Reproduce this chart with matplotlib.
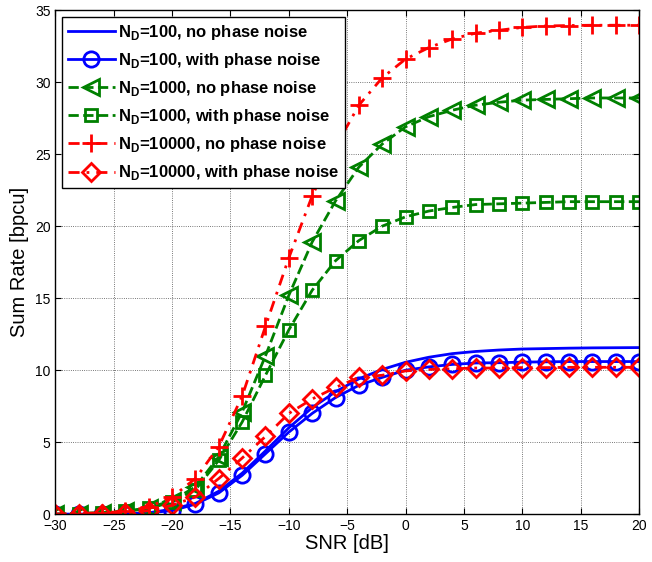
import numpy as np
import matplotlib
matplotlib.use('Agg')
import matplotlib.pyplot as plt

plt.rcParams['font.family'] = ['Liberation Sans', 'DejaVu Sans']
plt.rcParams['mathtext.fontset'] = 'custom'
plt.rcParams['mathtext.rm'] = 'Liberation Sans'
plt.rcParams['mathtext.bf'] = 'Liberation Sans:bold'

# SNR grid, markers every 2 dB
snr = np.arange(-30, 21, 2)

nd100_nopn = [0.0, 0.0, 0.01, 0.03, 0.1, 0.35, 0.75, 1.6, 2.85, 4.4, 6.0, 7.4, 8.5,
              9.4, 10.05, 10.55, 10.9, 11.15, 11.3, 11.4, 11.47, 11.5, 11.53, 11.55, 11.56, 11.57]
nd100_pn = [0.0, 0.0, 0.01, 0.03, 0.1, 0.25, 0.7, 1.48, 2.7, 4.2, 5.7, 7.0, 8.1,
            8.95, 9.5, 10.0, 10.23, 10.4, 10.5, 10.52, 10.56, 10.58, 10.6, 10.6, 10.6, 10.6]
nd1000_nopn = [0.0, 0.05, 0.1, 0.2, 0.45, 0.95, 1.9, 4.0, 7.1, 11.0, 15.2, 18.9, 21.75,
               24.1, 25.7, 26.9, 27.6, 28.05, 28.4, 28.6, 28.75, 28.8, 28.85, 28.9, 28.9, 28.9]
nd1000_pn = [0.0, 0.05, 0.1, 0.2, 0.4, 0.85, 1.7, 3.75, 6.4, 9.65, 12.8, 15.55, 17.6,
             19.0, 20.0, 20.65, 21.05, 21.3, 21.5, 21.55, 21.6, 21.65, 21.7, 21.7, 21.7, 21.7]
nd10000_nopn = [0.0, 0.05, 0.1, 0.2, 0.5, 1.2, 2.48, 4.7, 8.2, 13.05, 17.8, 22.1, 25.5,
                28.4, 30.3, 31.6, 32.4, 33.0, 33.4, 33.6, 33.8, 33.9, 33.93, 33.95, 33.95, 33.95]
nd10000_pn = [0.0, 0.0, 0.05, 0.1, 0.25, 0.62, 1.2, 2.48, 3.9, 5.4, 7.0, 8.0, 8.8,
              9.5, 9.65, 9.95, 10.05, 10.1, 10.15, 10.15, 10.18, 10.18, 10.2, 10.2, 10.2, 10.2]

fig = plt.figure(figsize=(6.52, 5.62), dpi=100)
ax = fig.add_axes([0.085, 0.085, 0.895, 0.897])

lw = 2.0
ms = 11
dashdot = (0, (4, 2.5, 1, 2.5))
ax.plot(snr, nd100_nopn, '-', color='b', lw=lw,
        label=r'$\mathbf{N}_{\mathbf{D}}$=100, no phase noise')
ax.plot(snr, nd100_pn, '-o', color='b', lw=lw, ms=ms, mfc='none', mew=lw,
        label=r'$\mathbf{N}_{\mathbf{D}}$=100, with phase noise')
ax.plot(snr, nd1000_nopn, '--<', color='#008000', lw=lw, ms=ms + 1, mfc='none', mew=lw,
        label=r'$\mathbf{N}_{\mathbf{D}}$=1000, no phase noise')
ax.plot(snr, nd1000_pn, '--s', color='#008000', lw=lw, ms=ms - 2, mfc='none', mew=lw,
        label=r'$\mathbf{N}_{\mathbf{D}}$=1000, with phase noise')
ax.plot(snr, nd10000_nopn, marker='+', ls=dashdot, color='r', lw=lw, ms=ms + 2, mew=lw,
        label=r'$\mathbf{N}_{\mathbf{D}}$=10000, no phase noise')
ax.plot(snr, nd10000_pn, marker='D', ls=dashdot, color='r', lw=lw, ms=ms - 2, mfc='none', mew=lw,
        label=r'$\mathbf{N}_{\mathbf{D}}$=10000, with phase noise')

ax.set_xlim(-30, 20)
ax.set_ylim(0, 35)
ax.set_xticks(np.arange(-30, 21, 5))
ax.set_yticks(np.arange(0, 36, 5))
ax.tick_params(direction='in', top=True, right=True, labelsize=10, length=4)
ax.grid(True, linestyle=':', color='k', lw=0.6, alpha=0.7)
for s in ax.spines.values():
    s.set_linewidth(1.0)
ax.set_xlabel('SNR [dB]', fontsize=14.5, labelpad=1)
ax.set_ylabel('Sum Rate [bpcu]', fontsize=14.5, labelpad=4)

leg = ax.legend(loc='upper left', fancybox=False, framealpha=1, edgecolor='k',
                prop={'weight': 'bold', 'size': 12}, handlelength=2.8,
                borderaxespad=0.4, labelspacing=0.55, borderpad=0.35, handletextpad=0.2)
leg.get_frame().set_linewidth(1.0)

fig.savefig('out.png', dpi=100)
